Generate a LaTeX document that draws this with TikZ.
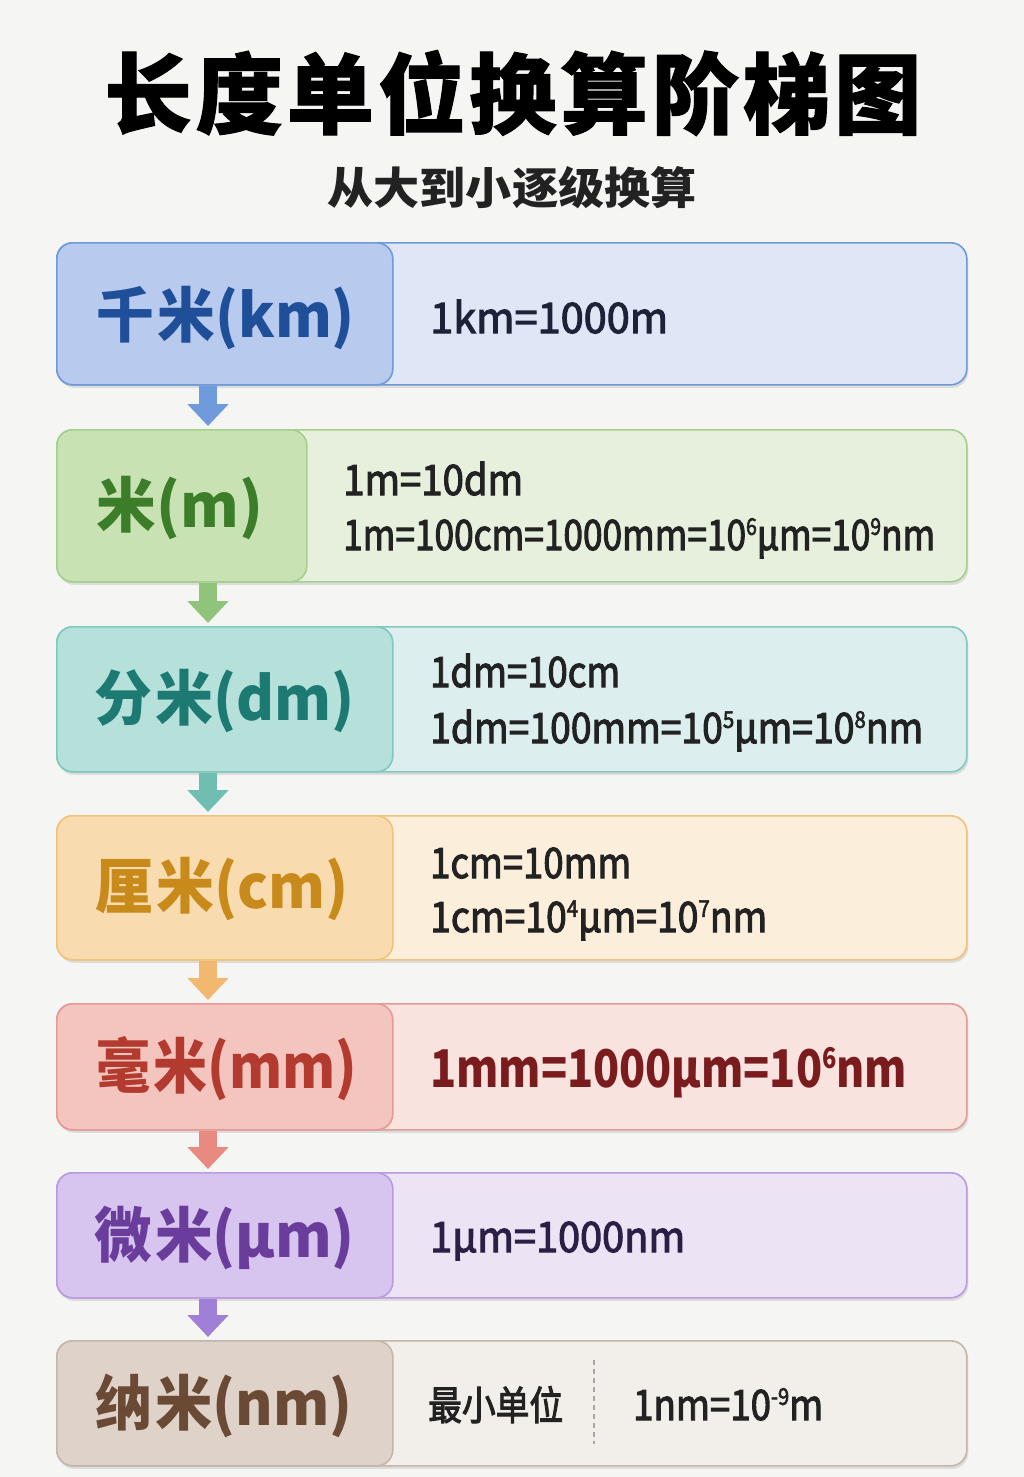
\documentclass[tikz,border=0pt]{standalone}
\usepackage{fontspec}
\usepackage{graphicx}
\setmainfont{Noto Sans CJK SC}
\newfontfamily\heavyfont{Noto Sans CJK SC}[BoldFeatures={FakeBold=1.2}]
\newfontfamily\medfont{Noto Sans CJK SC}[FakeBold=2.6]
\usetikzlibrary{arrows.meta,shadows}

\newcommand\fitw[2]{\resizebox{#1pt}{\height}{#2}}
\newcommand\sups[1]{\raisebox{0.36em}{\scalebox{0.55}{#1}}}

\definecolor{bgc}{HTML}{F5F5F4}
% km
\definecolor{kmO}{HTML}{DFE7F6}\definecolor{kmB}{HTML}{6F9AD8}
\definecolor{kmL}{HTML}{B8CBEE}\definecolor{kmT}{HTML}{1E4F98}
\definecolor{kmA}{HTML}{6F9BDC}\definecolor{kmX}{HTML}{1C2238}
% m
\definecolor{mO}{HTML}{E6F0DD}\definecolor{mB}{HTML}{A4CF8C}
\definecolor{mL}{HTML}{C8E2B4}\definecolor{mT}{HTML}{3B7D28}
\definecolor{mA}{HTML}{8FC47A}
% dm
\definecolor{dmO}{HTML}{DCEFEE}\definecolor{dmB}{HTML}{80C8C0}
\definecolor{dmL}{HTML}{B6E0DA}\definecolor{dmT}{HTML}{1D7A72}
\definecolor{dmA}{HTML}{70BDB2}
% cm
\definecolor{cmO}{HTML}{FBEFDC}\definecolor{cmB}{HTML}{F1C27A}
\definecolor{cmL}{HTML}{F8DCB0}\definecolor{cmT}{HTML}{C98A1C}
\definecolor{cmA}{HTML}{F2B870}
% mm
\definecolor{mmO}{HTML}{F9E3DF}\definecolor{mmB}{HTML}{E49A95}
\definecolor{mmL}{HTML}{F4C4BF}\definecolor{mmT}{HTML}{B23A2E}
\definecolor{mmA}{HTML}{E88A80}\definecolor{mmX}{HTML}{7A1C1E}
% um
\definecolor{umO}{HTML}{ECE4F5}\definecolor{umB}{HTML}{B99BDF}
\definecolor{umL}{HTML}{D7C5EF}\definecolor{umT}{HTML}{6A3D9C}
\definecolor{umA}{HTML}{A07FD6}\definecolor{umX}{HTML}{2B1F45}
% nm
\definecolor{nmO}{HTML}{F2EEE9}\definecolor{nmB}{HTML}{C4B6AB}
\definecolor{nmL}{HTML}{DFD2C8}\definecolor{nmT}{HTML}{6B4A35}
\definecolor{txt}{HTML}{222222}

\tikzset{
  rowbox/.style={draw=#1B, fill=#1O, line width=1.6pt, rounded corners=16pt,
    inner sep=0pt, anchor=north west,
    drop shadow={shadow xshift=1.5pt, shadow yshift=-3pt, opacity=0.10, fill=black}},
  leftbox/.style={draw=#1B, fill=#1L, line width=1.6pt, rounded corners=16pt,
    inner sep=0pt, anchor=north west},
  lab/.style={text=#1T, anchor=base, inner sep=0pt,
    font=\bfseries\fontsize{60}{60}\selectfont},
  rtxt/.style={anchor=base west, inner sep=0pt, text=#1,
    font=\medfont\fontsize{42}{42}\selectfont},
  arr/.style={draw=#1A, line width=18pt, -{Triangle[width=40pt,length=22pt]},
    shorten >=3pt},
}

\begin{document}
\begin{tikzpicture}[x=1pt,y=-1pt]
\path[fill=bgc] (0,0) rectangle (1024,1477);
\useasboundingbox (0,0) rectangle (1024,1477);

% title
\node[inner sep=0pt, text=black, font=\heavyfont\bfseries\fontsize{88}{88}\selectfont]
  (title) at (513,93) {\fitw{817}{长\hspace{4pt}度\hspace{4pt}单\hspace{4pt}位\hspace{4pt}换\hspace{4pt}算\hspace{4pt}阶\hspace{4pt}梯\hspace{4pt}图}};
\node[inner sep=0pt, text=txt, font=\bfseries\fontsize{44}{44}\selectfont]
  (sub) at (512,188) {\fitw{369}{从大到小逐级换算}};

% rows
\node[rowbox=km, minimum width=910pt, minimum height=142pt] (R1) at (56,242) {};
\node[leftbox=km, minimum width=336pt, minimum height=142pt] (L1) at (56,242) {};
\node[rowbox=m, minimum width=910pt, minimum height=152pt] (R2) at (56,429) {};
\node[leftbox=m, minimum width=250pt, minimum height=152pt] (L2) at (56,429) {};
\node[rowbox=dm, minimum width=910pt, minimum height=145pt] (R3) at (56,626) {};
\node[leftbox=dm, minimum width=336pt, minimum height=145pt] (L3) at (56,626) {};
\node[rowbox=cm, minimum width=910pt, minimum height=144pt] (R4) at (56,815) {};
\node[leftbox=cm, minimum width=336pt, minimum height=144pt] (L4) at (56,815) {};
\node[rowbox=mm, minimum width=910pt, minimum height=126pt] (R5) at (56,1003) {};
\node[leftbox=mm, minimum width=336pt, minimum height=126pt] (L5) at (56,1003) {};
\node[rowbox=um, minimum width=910pt, minimum height=125pt] (R6) at (56,1172) {};
\node[leftbox=um, minimum width=336pt, minimum height=125pt] (L6) at (56,1172) {};
\node[rowbox=nm, minimum width=910pt, minimum height=125pt] (R7) at (56,1340) {};
\node[leftbox=nm, minimum width=336pt, minimum height=125pt] (L7) at (56,1340) {};

% labels
\node[lab=km] (t1) at (226,337) {\fitw{258}{千\hspace{3pt}米(km)}};
\node[lab=m]  (t2) at (180,527) {\fitw{166}{米(m)}};
\node[lab=dm] (t3) at (225,720) {\fitw{260}{分\hspace{3pt}米(dm)}};
\node[lab=cm] (t4) at (222,908) {\fitw{253}{厘\hspace{3pt}米(cm)}};
\node[lab=mm] (t5) at (227,1088) {\fitw{260}{毫\hspace{3pt}米(mm)}};
\node[lab=um] (t6) at (225,1257) {\fitw{260}{微\hspace{3pt}米(μm)}};
\node[lab=nm] (t7) at (224,1425) {\fitw{257}{纳\hspace{3pt}米(nm)}};

% right texts
\node[rtxt=kmX] (e1) at (430,333) {\fitw{238}{1km=1000m}};
\node[rtxt=txt] (e2a) at (343,495) {\fitw{180}{1m=10dm}};
\node[rtxt=txt] (e2b) at (343,550) {\fitw{592}{1m=100cm=1000mm=10\sups{6}μm=10\sups{9}nm}};
\node[rtxt=txt] (e3a) at (430,687) {\fitw{190}{1dm=10cm}};
\node[rtxt=txt] (e3b) at (430,743) {\fitw{493}{1dm=100mm=10\sups{5}μm=10\sups{8}nm}};
\node[rtxt=txt] (e4a) at (430,878) {\fitw{201}{1cm=10mm}};
\node[rtxt=txt] (e4b) at (430,932) {\fitw{337}{1cm=10\sups{4}μm=10\sups{7}nm}};
\node[rtxt=mmX, font=\bfseries\fontsize{52}{52}\selectfont]
  (e5) at (430,1087) {\fitw{477}{1mm=1000μm=10\sups{6}nm}};
\node[rtxt=umX] (e6) at (430,1252) {\fitw{255}{1μm=1000nm}};
\node[rtxt=txt, font=\medfont\fontsize{40}{40}\selectfont] (e7a) at (428,1420) {\fitw{135}{最小单位}};
\node[rtxt=txt] (e7b) at (633,1420) {\fitw{190}{1nm=10\sups{-9}m}};
\coordinate (d1) at (594,1360);
\coordinate (d2) at (594,1444);
\draw[color=black!35, line width=1.2pt, dash pattern=on 5pt off 4pt] (d1) -- (d2);

% arrows
\coordinate (ax) at (208,0);
\draw[arr=km] (L1.south -| ax) -- (L2.north -| ax);
\draw[arr=m]  (L2.south -| ax) -- (L3.north -| ax);
\draw[arr=dm] (L3.south -| ax) -- (L4.north -| ax);
\draw[arr=cm] (L4.south -| ax) -- (L5.north -| ax);
\draw[arr=mm] (L5.south -| ax) -- (L6.north -| ax);
\draw[arr=um] (L6.south -| ax) -- (L7.north -| ax);
\end{tikzpicture}
\end{document}
